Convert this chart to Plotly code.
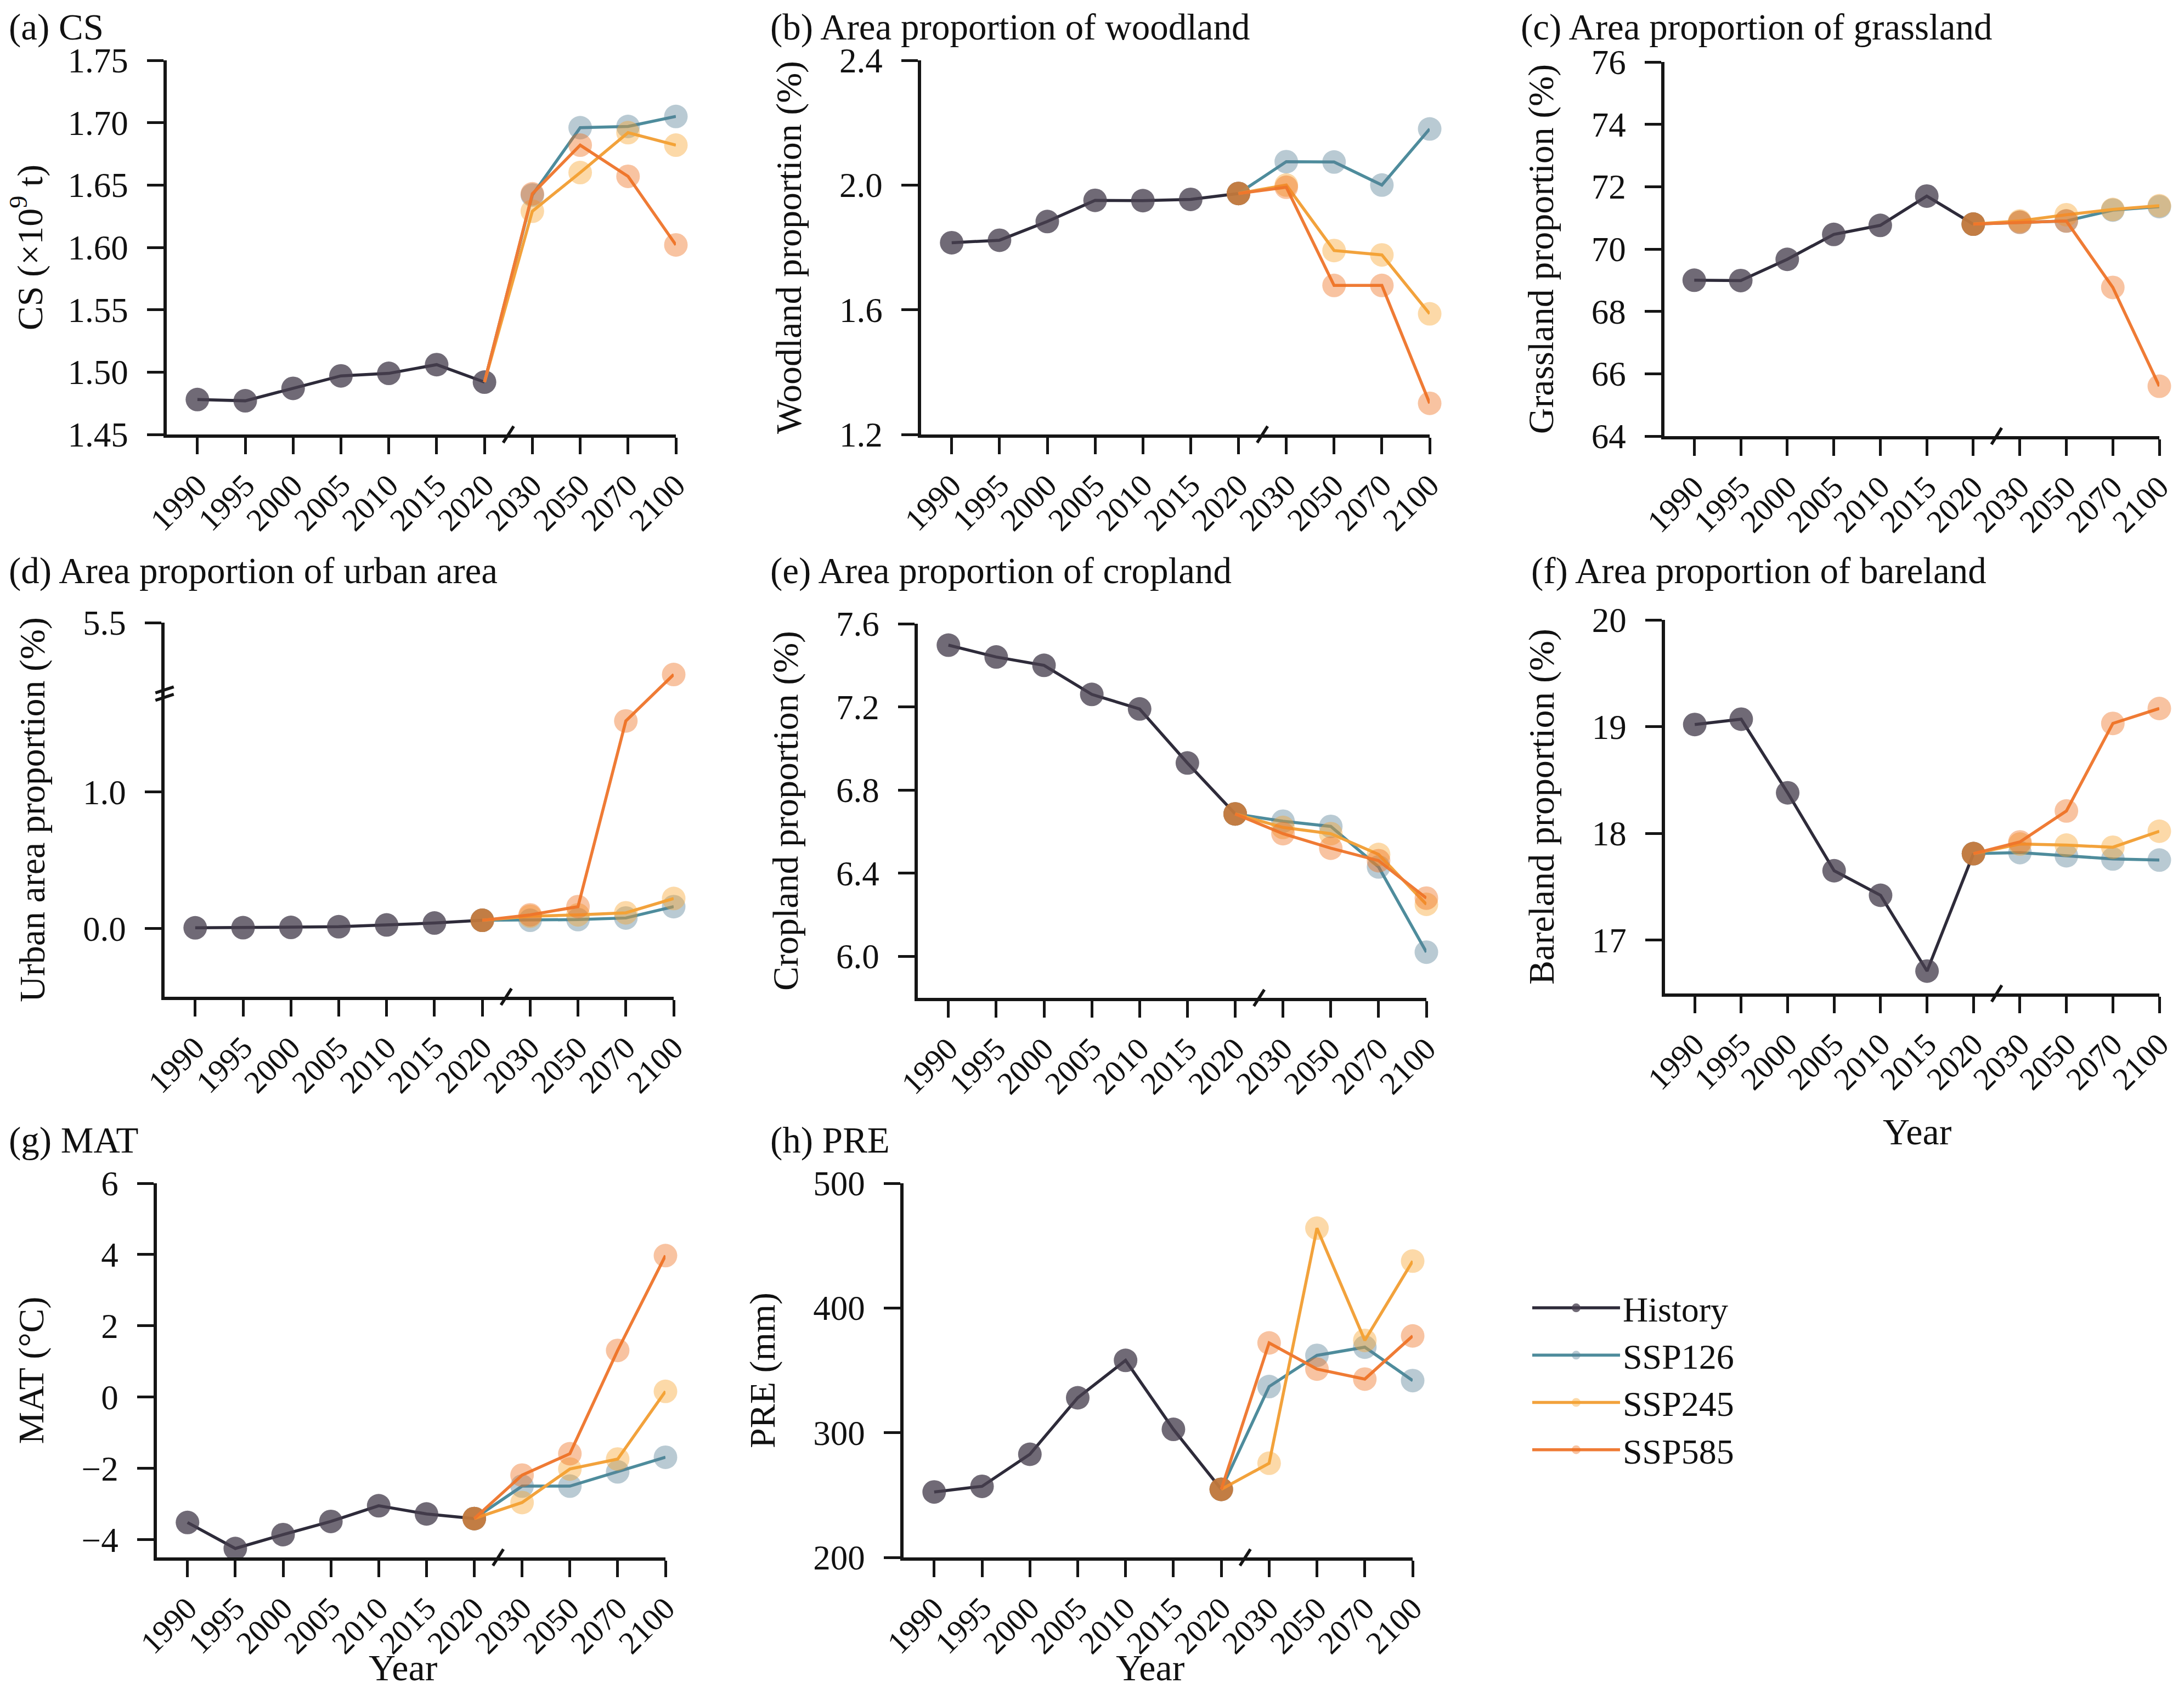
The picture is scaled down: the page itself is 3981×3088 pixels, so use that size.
import plotly.graph_objects as go

W, H = 3981, 3088          # browser window
OFF = 8                    # default page body margin
FW, FH = W - 2 * OFF, H - 2 * OFF   # figure size so it fits the window exactly
FONT = "Liberation Serif"
FS = 58

# ---------------- data ----------------
hist_years = ["1990", "1995", "2000", "2005", "2010", "2015", "2020"]
fut_years = ["2020", "2030", "2050", "2070", "2100"]
all_years = hist_years + fut_years[1:]
series_names = ["History", "SSP126", "SSP245", "SSP585"]

cs_hist = [1.478, 1.477, 1.487, 1.497, 1.499, 1.506, 1.492]
cs_126 = [1.642, 1.696, 1.697, 1.705]
cs_245 = [1.629, 1.660, 1.692, 1.682]
cs_585 = [1.643, 1.682, 1.657, 1.602]

wood_hist = [1.815, 1.823, 1.883, 1.951, 1.950, 1.954, 1.973]
wood_126 = [2.075, 2.074, 2.000, 2.180]
wood_245 = [2.000, 1.790, 1.776, 1.587]
wood_585 = [1.993, 1.678, 1.678, 1.300]

grass_hist = [69.00, 68.99, 69.67, 70.47, 70.76, 71.70, 70.80]
grass_126 = [70.86, 70.90, 71.25, 71.36]
grass_245 = [70.90, 71.10, 71.27, 71.39]
grass_585 = [70.86, 70.90, 68.77, 65.60]

urban_hist = [0.005, 0.006, 0.008, 0.013, 0.026, 0.040, 0.060]
urban_126 = [0.060, 0.065, 0.077, 0.160]
urban_245 = [0.090, 0.100, 0.115, 0.220]
urban_585 = [0.100, 0.160, 1.520, 5.120]

crop_hist = [7.497, 7.440, 7.400, 7.260, 7.190, 6.930, 6.685]
crop_126 = [6.650, 6.625, 6.430, 6.020]
crop_245 = [6.620, 6.590, 6.490, 6.250]
crop_585 = [6.590, 6.520, 6.460, 6.280]

bare_hist = [19.02, 19.07, 18.38, 17.65, 17.42, 16.71, 17.81]
bare_126 = [17.82, 17.79, 17.76, 17.75]
bare_245 = [17.90, 17.89, 17.87, 18.02]
bare_585 = [17.92, 18.21, 19.03, 19.17]

mat_hist = [-3.52, -4.25, -3.86, -3.49, -3.05, -3.28, -3.41]
mat_126 = [-2.50, -2.50, -2.10, -1.69]
mat_245 = [-2.96, -2.02, -1.74, 0.16]
mat_585 = [-2.19, -1.59, 1.31, 3.97]

pre_hist = [252.5, 257.0, 282.7, 328.0, 358.0, 302.7, 254.6]
pre_126 = [337.0, 362.0, 368.6, 341.8]
pre_245 = [275.5, 464.0, 374.0, 437.6]
pre_585 = [372.0, 351.0, 343.0, 377.6]

# urban axis break (lower segment up to 1.72, upper segment ends at 5.5)
URB_BREAK = 1.72
URB_SHIFT = 3.26
urban_ticks = [0.0, 1.0, 5.5]


def urb(v):
    return v if v <= URB_BREAK else v - URB_SHIFT


def px_x(px):
    return (px - OFF) / FW


def px_y(py):
    return 1 - (py - OFF) / FH


# ---------------- styles ----------------
line_cols = ["#2e2b3a", "#4e8c9c", "#f2a23c", "#ef7b35"]
mark_cols = ["rgba(72,64,80,0.78)", "rgba(87,128,150,0.6)",
             "rgba(247,165,48,0.6)", "rgba(238,113,30,0.6)"]
MS = 43
LW = 5.5
AX = "#151515"
TFS = 67   # panel titles
AFS = 66   # axis titles

panels = [
    dict(title="(a) CS", ytitle="CS (×10<sup>9</sup> t)", data=[cs_hist, cs_126, cs_245, cs_585],
         yrange=[1.45, 1.75], dtick=0.05, tick0=1.45, fmt=".2f",
         dom=(304, 1232, 110, 792), tpos=(14, OFF + 2, "top"), year=None, hide2020=True),
    dict(title="(b) Area proportion of woodland", ytitle="Woodland proportion (%)",
         data=[wood_hist, wood_126, wood_245, wood_585],
         yrange=[1.2, 2.4], dtick=0.4, tick0=1.2, fmt=".1f",
         dom=(1679, 2606, 110, 792), tpos=(1402, OFF + 2, "top"), year=None, hide2020=False),
    dict(title="(c) Area proportion of grassland", ytitle="Grassland proportion (%)",
         data=[grass_hist, grass_126, grass_245, grass_585],
         yrange=[64, 76], dtick=2, tick0=64, fmt="d",
         dom=(3034, 3936, 113, 795), tpos=(2770, OFF + 2, "top"), year=None, hide2020=False),
    dict(title="(d) Area proportion of urban area", ytitle="Urban area proportion (%)",
         data=[urban_hist, urban_126, urban_245, urban_585],
         yrange=[-0.5, urb(5.5)], dtick=None, tick0=None, fmt=None,
         dom=(300, 1228, 1135, 1817), tpos=(14, 1040, "middle"), year=None, hide2020=False,
         brk=True),
    dict(title="(e) Area proportion of cropland", ytitle="Cropland proportion (%)",
         data=[crop_hist, crop_126, crop_245, crop_585],
         yrange=[5.8, 7.6], dtick=0.4, tick0=6.0, fmt=".1f",
         dom=(1673, 2600, 1137, 1819), tpos=(1402, 1040, "middle"), year=None, hide2020=False),
    dict(title="(f) Area proportion of bareland", ytitle="Bareland proportion (%)",
         data=[bare_hist, bare_126, bare_245, bare_585],
         yrange=[16.5, 20], dtick=1, tick0=17, fmt="d",
         dom=(3035, 3936, 1130, 1811), tpos=(2789, 1040, "middle"),
         year=(3495, 2063, "middle"), hide2020=False),
    dict(title="(g) MAT", ytitle="MAT (°C)", data=[mat_hist, mat_126, mat_245, mat_585],
         yrange=[-4.5, 6], dtick=2, tick0=-4, fmt="d",
         dom=(286, 1213, 2157, 2839), tpos=(14, 2078, "middle"), year=(735, H - OFF, "bottom"),
         hide2020=False),
    dict(title="(h) PRE", ytitle="PRE (mm)", data=[pre_hist, pre_126, pre_245, pre_585],
         yrange=[200, 500], dtick=100, tick0=200, fmt="d",
         dom=(1647, 2575, 2157, 2839), tpos=(1402, 2078, "middle"),
         year=(2097, H - OFF, "bottom"), hide2020=False),
]

fig = go.Figure()
layout = dict(
    width=FW, height=FH, margin=dict(l=0, r=0, t=0, b=0, autoexpand=False),
    paper_bgcolor="white", plot_bgcolor="white",
    font=dict(family=FONT, size=FS, color="#111111"),
    showlegend=True,
    legend=dict(x=px_x(2788), y=px_y(2336), xanchor="left", yanchor="top",
                font=dict(family=FONT, size=64, color="#111111"),
                itemwidth=160, tracegroupgap=0, bgcolor="rgba(0,0,0,0)"),
)
annotations = []
shapes = []

for i, p in enumerate(panels):
    n = i + 1
    xa = "x" if n == 1 else f"x{n}"
    ya = "y" if n == 1 else f"y{n}"
    tf = urb if p.get("brk") else (lambda v: v)
    hist = p["data"][0]
    for k in range(4):
        if k == 0:
            xs = hist_years
            ys = [tf(v) for v in hist]
            sizes = MS
        else:
            xs = fut_years
            ys = [tf(v) for v in [hist[-1]] + p["data"][k]]
            sizes = [0 if p["hide2020"] else MS] + [MS] * 4
        fig.add_trace(go.Scatter(
            x=xs, y=ys, xaxis=xa, yaxis=ya, mode="lines+markers",
            name=series_names[k], showlegend=(n == 8), legendrank=k + 1,
            line=dict(color=line_cols[k], width=LW),
            marker=dict(color=mark_cols[k], size=sizes, line=dict(width=0)),
            cliponaxis=False,
        ))

    x0, x1, y0, y1 = p["dom"]
    xkey = "xaxis" if n == 1 else f"xaxis{n}"
    ykey = "yaxis" if n == 1 else f"yaxis{n}"
    layout[xkey] = dict(
        domain=[px_x(x0), px_x(x1)], anchor=ya, type="category",
        categoryorder="array", categoryarray=all_years, automargin=False,
        range=[-0.64, 10], showgrid=False, zeroline=False,
        showline=True, linecolor=AX, linewidth=5.5,
        ticks="outside", ticklen=30, tickwidth=4.5, tickcolor=AX,
        tickangle=-45, tickfont=dict(family=FONT, size=FS, color="#111111"),
    )
    yd = dict(
        domain=[px_y(y1), px_y(y0)], anchor=xa, range=p["yrange"], automargin=False,
        showgrid=False, zeroline=False,
        showline=True, linecolor=AX, linewidth=5.5,
        ticks="outside", ticklen=30, tickwidth=4.5, tickcolor=AX,
        tickfont=dict(family=FONT, size=63, color="#111111"),
        ticklabelstandoff=22,
        title=dict(text=p["ytitle"], font=dict(family=FONT, size=AFS), standoff=50),
    )
    if p.get("brk"):
        yd.update(tickmode="array", tickvals=[urb(v) for v in urban_ticks],
                  ticktext=[f"{v:.1f}" for v in urban_ticks])
    else:
        yd.update(tick0=p["tick0"], dtick=p["dtick"], tickformat=p["fmt"])
    layout[ykey] = yd

    # panel title
    tx, ty, tanc = p["tpos"]
    annotations.append(dict(
        text=p["title"], xref="paper", yref="paper", x=px_x(tx), y=px_y(ty),
        xanchor="left", yanchor=tanc, showarrow=False,
        font=dict(family=FONT, size=TFS, color="#111111"),
    ))
    # x-axis title "Year"
    if p["year"]:
        yx, yy, yanc = p["year"]
        annotations.append(dict(
            text="Year", xref="paper", yref="paper", x=px_x(yx), y=px_y(yy),
            xanchor="center", yanchor=yanc, showarrow=False,
            font=dict(family=FONT, size=AFS + 2, color="#111111"),
        ))
    # x-axis break slash between 2020 and 2030
    shapes.append(dict(type="line", xref=xa, yref=f"{ya} domain",
                       x0=6.39, x1=6.61, y0=-0.022, y1=0.022,
                       line=dict(color=AX, width=5.5)))
    if p.get("brk"):
        for c in (URB_BREAK - 0.027, URB_BREAK + 0.027):
            shapes.append(dict(type="line", xref=f"{xa} domain", yref=ya,
                               x0=-0.018, x1=0.018, y0=c - 0.022, y1=c + 0.022,
                               line=dict(color=AX, width=5.5)))

layout["annotations"] = annotations
layout["shapes"] = shapes
fig.update_layout(**layout)
fig.write_html("out.html")
